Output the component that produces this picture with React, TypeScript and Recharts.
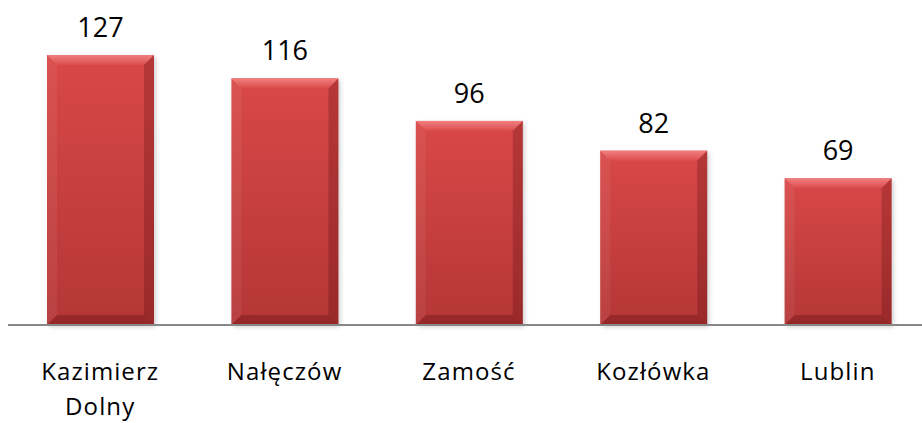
import React from "react";
import { BarChart, Bar, XAxis, YAxis, LabelList } from "recharts";

const categories = ["Kazimierz Dolny", "Nałęczów", "Zamość", "Kozłówka", "Lublin"];
const values = [127, 116, 96, 82, 69];

const data = categories.map((name, i) => ({ name, value: values[i] }));

const FONT = "'Open Sans', 'Noto Sans', sans-serif";

const BevelBar = (props: any) => {
  const { x, y, width, height } = props;
  if (!height || height <= 0) return null;
  const b = 10;
  return (
    <g>
      <rect x={x + 2} y={y + 2} width={width} height={height} fill="rgba(0,0,0,0.18)" filter="url(#blurShadow)" />
      <rect x={x} y={y} width={width} height={height} fill="url(#barGrad)" />
      <polygon points={`${x},${y} ${x + width},${y} ${x + width - b},${y + b} ${x + b},${y + b}`} fill="url(#topBevel)" />
      <polygon points={`${x},${y} ${x + b},${y + b} ${x + b},${y + height - b} ${x},${y + height}`} fill="rgba(255,255,255,0.06)" />
      <polygon points={`${x + width},${y} ${x + width - b},${y + b} ${x + width - b},${y + height - b} ${x + width},${y + height}`} fill="rgba(60,0,0,0.22)" />
      <polygon points={`${x},${y + height} ${x + b},${y + height - b} ${x + width - b},${y + height - b} ${x + width},${y + height}`} fill="rgba(60,0,0,0.25)" />
    </g>
  );
};

const XTick = (props: any) => {
  const { x, y, payload } = props;
  const words = String(payload.value).split(" ");
  return (
    <text x={x} y={y} textAnchor="middle" fontFamily={FONT} fontSize={24} letterSpacing={1.1} fill="#000">
      {words.map((w, i) => (
        <tspan key={i} x={x} dy={i === 0 ? 47 : 35}>{w}</tspan>
      ))}
    </text>
  );
};

export default function App() {
  return (
    <div style={{ position: "absolute", left: 0, top: 0, width: 922, height: 423, overflow: "hidden" }}>
      <BarChart width={930} height={423} data={data} margin={{ top: 55, right: 0, bottom: 0, left: 8 }} barSize={107}>
        <defs>
          <linearGradient id="barGrad" x1="0" y1="0" x2="0" y2="1">
            <stop offset="0%" stopColor="#d94848" />
            <stop offset="100%" stopColor="#b53636" />
          </linearGradient>
          <linearGradient id="topBevel" x1="0" y1="0" x2="0" y2="1">
            <stop offset="0%" stopColor="#f08080" />
            <stop offset="100%" stopColor="#dc4c4c" />
          </linearGradient>
          <filter id="blurShadow" x="-10%" y="-10%" width="120%" height="120%">
            <feGaussianBlur stdDeviation="2" />
          </filter>
        </defs>
        <YAxis hide domain={[0, 127]} />
        <XAxis
          dataKey="name"
          height={98}
          interval={0}
          tickLine={false}
          axisLine={{ stroke: "#888888", strokeWidth: 2 }}
          tick={<XTick />}
        />
        <Bar dataKey="value" shape={<BevelBar />} isAnimationActive={false}>
          <LabelList dataKey="value" position="top" offset={18} fontFamily={FONT} fontSize={27} fill="#000" />
        </Bar>
      </BarChart>
    </div>
  );
}
